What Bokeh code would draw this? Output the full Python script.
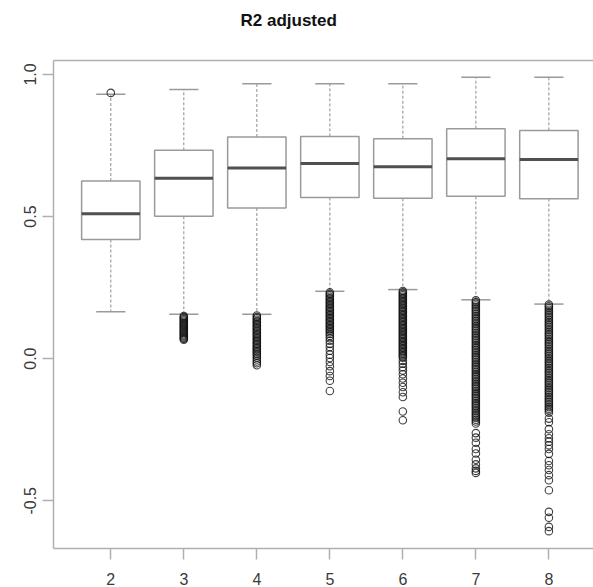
from bokeh.plotting import figure
from bokeh.models import ColumnDataSource, FixedTicker, LinearAxis, Range1d
from bokeh.embed import file_html
from bokeh.resources import INLINE

# ---------------- data ----------------
groups = [2, 3, 4, 5, 6, 7, 8]
tick_labels = ["2", "3", "4", "5", "6", "7", "8"]
q1 = [0.419, 0.501, 0.530, 0.567, 0.564, 0.571, 0.563]
median = [0.510, 0.635, 0.671, 0.687, 0.675, 0.703, 0.701]
q3 = [0.625, 0.733, 0.780, 0.782, 0.774, 0.809, 0.803]
whisker_low = [0.165, 0.156, 0.156, 0.237, 0.243, 0.207, 0.192]
whisker_high = [0.930, 0.947, 0.967, 0.967, 0.967, 0.990, 0.990]

out_2 = [0.935]
out_3 = [0.150, 0.146, 0.142, 0.138, 0.134, 0.130, 0.126, 0.122, 0.118, 0.114, 0.110,
         0.106, 0.102, 0.098, 0.094, 0.090, 0.086, 0.082, 0.078, 0.074, 0.070, 0.067]
out_4 = [0.152, 0.147, 0.142, 0.137, 0.132, 0.127, 0.122, 0.117, 0.112, 0.107, 0.102,
         0.097, 0.092, 0.087, 0.082, 0.077, 0.072, 0.067, 0.062, 0.057, 0.052, 0.047,
         0.042, 0.037, 0.032, 0.027, 0.022, 0.016, 0.010, 0.004, -0.003, -0.010,
         -0.016, -0.023]
out_5 = [0.233, 0.228, 0.223, 0.218, 0.213, 0.208, 0.203, 0.198, 0.193, 0.188, 0.183,
         0.178, 0.173, 0.168, 0.163, 0.158, 0.153, 0.148, 0.143, 0.138, 0.133, 0.128,
         0.123, 0.118, 0.113, 0.108, 0.103, 0.098, 0.093, 0.087, 0.080, 0.072, 0.063,
         0.052, 0.041, 0.028, 0.014, 0.002, -0.012, -0.027, -0.044, -0.061, -0.078,
         -0.114]
out_6 = [0.238, 0.233, 0.228, 0.223, 0.218, 0.213, 0.208, 0.203, 0.198, 0.193, 0.188,
         0.183, 0.178, 0.173, 0.168, 0.163, 0.158, 0.153, 0.148, 0.143, 0.138, 0.133,
         0.128, 0.123, 0.118, 0.113, 0.108, 0.103, 0.098, 0.093, 0.088, 0.083, 0.078,
         0.073, 0.068, 0.063, 0.058, 0.053, 0.048, 0.043, 0.038, 0.033, 0.028, 0.023,
         0.018, 0.013, 0.008, 0.003, -0.008, -0.018, -0.030, -0.042, -0.055, -0.070,
         -0.085, -0.100, -0.118, -0.135, -0.186, -0.217]
out_7 = [0.205, 0.199, 0.193, 0.187, 0.181, 0.175, 0.169, 0.163, 0.157, 0.151, 0.145,
         0.139, 0.133, 0.127, 0.121, 0.115, 0.109, 0.103, 0.097, 0.091, 0.085, 0.079,
         0.073, 0.067, 0.061, 0.055, 0.049, 0.043, 0.037, 0.031, 0.025, 0.019, 0.013,
         0.007, 0.001, -0.005, -0.011, -0.017, -0.023, -0.029, -0.035, -0.041, -0.047,
         -0.053, -0.059, -0.065, -0.071, -0.077, -0.083, -0.089, -0.095, -0.101, -0.107,
         -0.113, -0.119, -0.125, -0.131, -0.137, -0.143, -0.149, -0.155, -0.161, -0.167,
         -0.173, -0.179, -0.185, -0.191, -0.197, -0.203, -0.209, -0.215, -0.221, -0.228,
         -0.262, -0.278, -0.296, -0.318, -0.334, -0.356, -0.372, -0.386, -0.395, -0.402]
out_8 = [0.190, 0.184, 0.178, 0.172, 0.166, 0.160, 0.154, 0.148, 0.142, 0.136, 0.130,
         0.124, 0.118, 0.112, 0.106, 0.100, 0.094, 0.088, 0.082, 0.076, 0.070, 0.064,
         0.058, 0.052, 0.046, 0.040, 0.034, 0.028, 0.022, 0.016, 0.010, 0.004, -0.002,
         -0.008, -0.014, -0.020, -0.026, -0.032, -0.038, -0.044, -0.050, -0.056, -0.062,
         -0.068, -0.074, -0.080, -0.086, -0.092, -0.098, -0.104, -0.110, -0.116, -0.122,
         -0.128, -0.134, -0.140, -0.146, -0.152, -0.158, -0.164, -0.170, -0.176, -0.182,
         -0.190, -0.211, -0.224, -0.248, -0.266, -0.280, -0.292, -0.305, -0.318, -0.335,
         -0.360, -0.375, -0.392, -0.410, -0.428, -0.463, -0.539, -0.560, -0.592, -0.607]
outliers = [out_2, out_3, out_4, out_5, out_6, out_7, out_8]

y_ticks = [-0.5, 0.0, 0.5, 1.0]
y_tick_labels = ["-0.5", "0.0", "0.5", "1.0"]
title_text = "R2 adjusted"

# ---------------- figure ----------------
FONT = "Liberation Sans"
FRAME = "#b0b0b0"
X_START, X_END = 1.215, 8.611

p = figure(width=593, height=587, x_range=Range1d(X_START, X_END),
           y_range=Range1d(-0.668, 1.049), output_backend="svg",
           toolbar_location=None, title=title_text,
           min_border_left=53, min_border_right=0, min_border_top=59,
           min_border_bottom=0)
p.grid.visible = False
p.outline_line_color = None
p.background_fill_color = "white"
p.border_fill_color = "white"

p.title.align = "left"
p.title.offset = 187
p.title.standoff = 16
p.title.text_font = FONT
p.title.text_font_size = "17px"
p.title.text_font_style = "bold"
p.title.text_color = "#111111"

for ax in (p.xaxis[0], p.yaxis[0]):
    ax.axis_line_color = FRAME
    ax.axis_line_width = 1.5
    ax.major_tick_line_color = FRAME
    ax.major_tick_line_width = 1.5
    ax.major_tick_in = 0
    ax.major_tick_out = 11
    ax.minor_tick_line_color = None
    ax.major_label_text_font = FONT
    ax.major_label_text_font_size = "16px"
    ax.major_label_text_color = "#3a3a3a"

p.xaxis.ticker = FixedTicker(ticks=groups)
p.xaxis.major_label_overrides = {g: lab for g, lab in zip(groups, tick_labels)}
p.xaxis.major_label_standoff = 13

p.yaxis.ticker = FixedTicker(ticks=y_ticks)
p.yaxis.major_label_overrides = {t: lab for t, lab in zip(y_ticks, y_tick_labels)}
p.yaxis.major_label_orientation = "vertical"
p.yaxis.major_label_standoff = 6

# top border of the frame; one invisible tick at the far edge gives the panel
# height that lifts the title to its place
top_axis = LinearAxis(ticker=FixedTicker(ticks=[X_END]), axis_line_color=FRAME,
                      axis_line_width=1.5, major_tick_in=0, major_tick_out=23,
                      major_tick_line_color="white", major_tick_line_width=1,
                      minor_tick_in=0, minor_tick_out=0, minor_tick_line_color=None,
                      major_label_overrides={X_END: ""}, major_label_standoff=0,
                      major_label_text_font_size="0px")
p.add_layout(top_axis, "above")

# ---------------- boxes ----------------
half_box = 0.4
half_cap = 0.2
src = ColumnDataSource(dict(
    x=groups, q1=q1, med=median, q3=q3, lo=whisker_low, hi=whisker_high,
    bl=[g - half_box for g in groups], br=[g + half_box for g in groups],
    cl=[g - half_cap for g in groups], cr=[g + half_cap for g in groups],
))

WH = "#8c8c8c"
p.segment(x0="x", y0="q3", x1="x", y1="hi", source=src, line_color=WH,
          line_width=1, line_dash="3 2")
p.segment(x0="x", y0="q1", x1="x", y1="lo", source=src, line_color=WH,
          line_width=1, line_dash="3 2")
p.segment(x0="cl", y0="hi", x1="cr", y1="hi", source=src, line_color="#9a9a9a",
          line_width=1.5)
p.segment(x0="cl", y0="lo", x1="cr", y1="lo", source=src, line_color="#9a9a9a",
          line_width=1.5)
p.quad(left="bl", right="br", bottom="q1", top="q3", source=src,
       fill_color="white", line_color="#9a9a9a", line_width=1.5)
p.segment(x0="bl", y0="med", x1="br", y1="med", source=src, line_color="#505050",
          line_width=3)

ox, oy = [], []
for g, vals in zip(groups, outliers):
    ox.extend([g] * len(vals))
    oy.extend(vals)
p.scatter(x=ox, y=oy, marker="circle", size=7.5, fill_color=None,
          line_color="#111111", line_alpha=0.8, line_width=1.1)

open("out.html", "w").write(file_html(p, INLINE))
